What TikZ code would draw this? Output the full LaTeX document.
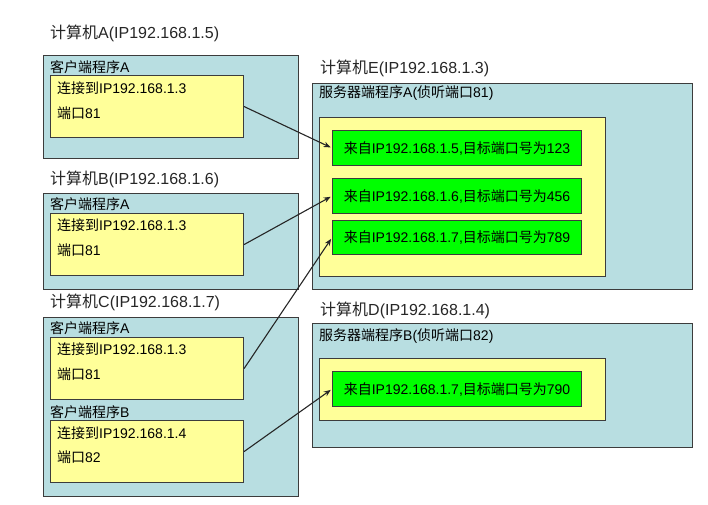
\documentclass[tikz,border=0pt]{standalone}
\usepackage{fontspec}
\setmainfont{Liberation Sans}
\newfontfamily\zhfont{Noto Sans CJK SC}
\newcommand\zh[1]{{\zhfont #1}}
\usetikzlibrary{arrows.meta}

\definecolor{boxline}{HTML}{3C3C3C}
\definecolor{pcfill}{HTML}{B8DEE1}
\definecolor{progfill}{HTML}{FFFF99}
\definecolor{connfill}{HTML}{00FF00}

\tikzset{
  pcbox/.style={draw=boxline, line width=1.1bp, fill=pcfill, anchor=north west, inner sep=0pt},
  progbox/.style={draw=boxline, line width=1.1bp, fill=progfill, anchor=north west, inner sep=0pt},
  connbox/.style={draw=boxline, line width=1.1bp, fill=connfill, anchor=north west, inner sep=0pt,
    minimum width=249bp, font=\fontsize{14bp}{16bp}\selectfont},
  pctitle/.style={anchor=west, inner sep=0pt, font=\fontsize{16bp}{19bp}\selectfont, text=black!85},
  proglabel/.style={anchor=west, inner sep=0pt, font=\fontsize{14bp}{16bp}\selectfont},
  link/.style={draw=black!85, line width=1.1bp, shorten >=1.5bp, -{Stealth[length=7bp,width=5.5bp]}}
}

\begin{document}
\begin{tikzpicture}[x=1bp,y=-1bp]
\useasboundingbox (0,0) rectangle (708,505);

% computers
\node[pcbox, minimum width=255bp, minimum height=103bp] (pcA) at (43,55) {};
\node[pcbox, minimum width=255bp, minimum height=96bp] (pcB) at (43,193) {};
\node[pcbox, minimum width=255bp, minimum height=179bp] (pcC) at (43,317) {};
\node[pcbox, minimum width=380bp, minimum height=206bp] (pcE) at (312,83) {};
\node[pcbox, minimum width=380bp, minimum height=124bp] (pcD) at (312,323) {};

\node[pctitle] (tA) at (50,33) {\zh{计算机}A(IP192.168.1.5)};
\node[pctitle] (tB) at (50,179) {\zh{计算机}B(IP192.168.1.6)};
\node[pctitle] (tC) at (50,302) {\zh{计算机}C(IP192.168.1.7)};
\node[pctitle] (tE) at (320,68) {\zh{计算机}E(IP192.168.1.3)};
\node[pctitle] (tD) at (320,310) {\zh{计算机}D(IP192.168.1.4)};

% client programs
\node[proglabel] (lA) at (50,67) {\zh{客户端程序}A};
\node[progbox, minimum width=193bp, minimum height=62bp] (cA) at (50,75) {};
\node[proglabel] (cA1) at (57,88) {\zh{连接到}IP192.168.1.3};
\node[proglabel] (cA2) at (57,113) {\zh{端口}81};

\node[proglabel] (lB) at (50,204) {\zh{客户端程序}A};
\node[progbox, minimum width=193bp, minimum height=62bp] (cB) at (50,213) {};
\node[proglabel] (cB1) at (57,225) {\zh{连接到}IP192.168.1.3};
\node[proglabel] (cB2) at (57,250) {\zh{端口}81};

\node[proglabel] (lCA) at (50,328) {\zh{客户端程序}A};
\node[progbox, minimum width=193bp, minimum height=62bp] (cCA) at (50,337) {};
\node[proglabel] (cCA1) at (57,349) {\zh{连接到}IP192.168.1.3};
\node[proglabel] (cCA2) at (57,374) {\zh{端口}81};

\node[proglabel] (lCB) at (50,412) {\zh{客户端程序}B};
\node[progbox, minimum width=193bp, minimum height=62bp] (cCB) at (50,420) {};
\node[proglabel] (cCB1) at (57,433) {\zh{连接到}IP192.168.1.4};
\node[proglabel] (cCB2) at (57,457) {\zh{端口}82};

% server programs
\node[proglabel] (lE) at (319,93) {\zh{服务器端程序}A(\zh{侦听端口}81)};
\node[progbox, minimum width=286bp, minimum height=159bp] (sE) at (319,117) {};
\node[connbox, minimum height=35bp] (g1) at (332,130) {\zh{来自}IP192.168.1.5,\zh{目标端口号为}123};
\node[connbox, minimum height=35bp] (g2) at (332,178) {\zh{来自}IP192.168.1.6,\zh{目标端口号为}456};
\node[connbox, minimum height=34bp] (g3) at (332,220) {\zh{来自}IP192.168.1.7,\zh{目标端口号为}789};

\node[proglabel] (lD) at (319,336) {\zh{服务器端程序}B(\zh{侦听端口}82)};
\node[progbox, minimum width=286bp, minimum height=62bp] (sD) at (319,358) {};
\node[connbox, minimum height=35bp] (g4) at (332,371) {\zh{来自}IP192.168.1.7,\zh{目标端口号为}790};

% connections
\draw[link] (cA.east) -- (g1.west);
\draw[link] (cB.east) -- (g2.west);
\draw[link] (cCA.east) -- (g3.west);
\draw[link] (cCB.east) -- (g4.west);
\end{tikzpicture}
\end{document}
